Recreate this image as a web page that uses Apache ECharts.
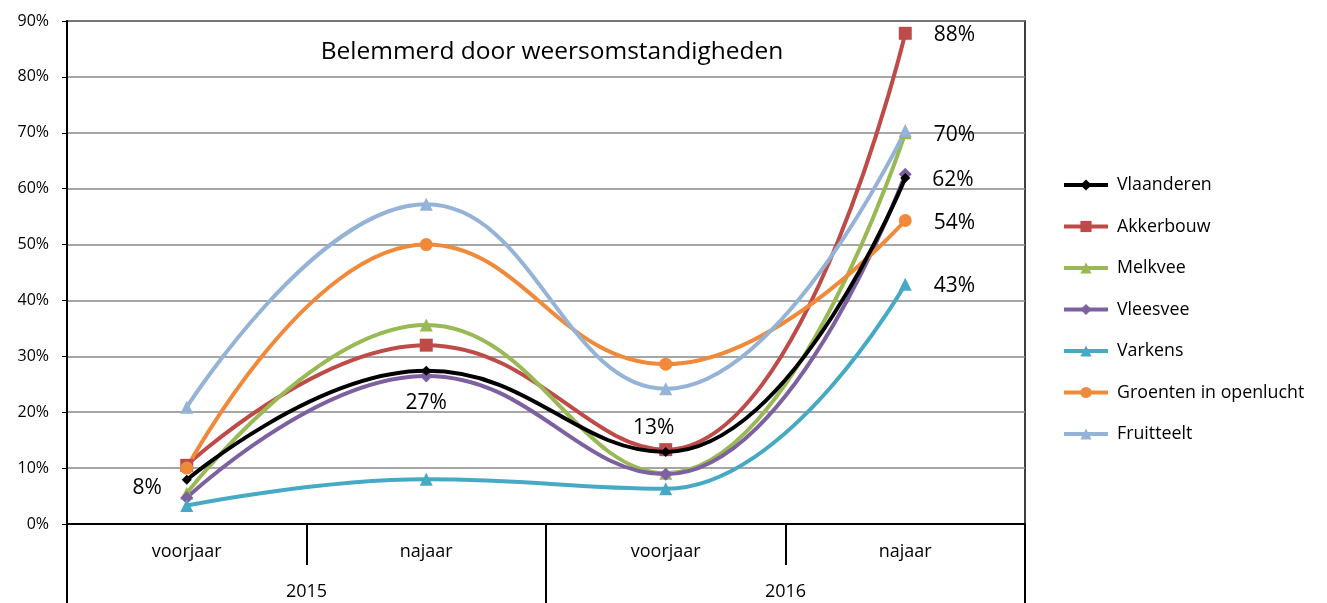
<!DOCTYPE html>
<html><head><meta charset="utf-8">
<script src="https://cdn.jsdelivr.net/npm/echarts@6/dist/echarts.min.js"></script>
<style>html,body{margin:0;padding:0;background:#fff}#c{width:1327px;height:603px}</style>
</head><body><div id="c"></div>
<script>
var seasons = ['voorjaar','najaar','voorjaar','najaar'];
var years = ['2015','2016'];
var yTicks = [0,10,20,30,40,50,60,70,80,90];
var vlaanderen = [7.9, 27.4, 12.9, 61.9];
var akkerbouw = [10.5, 32.0, 13.3, 87.8];
var melkvee = [5.5, 35.6, 9.1, 70.0];
var vleesvee = [4.7, 26.5, 8.9, 62.6];
var varkens = [3.3, 8.0, 6.3, 42.9];
var groenten = [10.0, 50.0, 28.6, 54.3];
var fruitteelt = [20.9, 57.2, 24.2, 70.4];
var names = ['Vlaanderen','Akkerbouw','Melkvee','Vleesvee','Varkens','Groenten in openlucht','Fruitteelt'];
var values = [vlaanderen, akkerbouw, melkvee, vleesvee, varkens, groenten, fruitteelt];
var colors = ['#000000','#BE4B48','#98B954','#7D60A0','#46AAC5','#F08A3A','#95B3D7'];
var symbols = ['diamond','rect','triangle','diamond','triangle','circle','triangle'];
var symSizes = [10,13,13,13,13,13,13];
// data labels: [seriesIndex, pointIndex, text, position]
var labels = [
  [0,0,'8%','left'],[0,1,'27%','bottom'],[0,2,'13%','top'],[0,3,'62%','right'],
  [1,3,'88%','right'],[2,3,'70%','right'],[5,3,'54%','right'],[4,3,'43%','right']
];
var FONT = 'Open Sans';
var series = values.map(function(arr, si){
  var data = arr.map(function(v, pi){
    var item = {value: v};
    labels.forEach(function(l){
      if (l[0]===si && l[1]===pi){
        var lab = {show:true, formatter:l[2], position:l[3], color:'#000', fontSize:21, fontFamily:FONT, distance:18};
        if (l[3]==='bottom') lab.distance = 17;
        if (l[3]==='top') { lab.distance = 8; lab.offset=[-12,0]; }
        if (l[3]==='right') { lab.distance = 22; lab.offset=[0,2]; }
        if (l[3]==='left') { lab.distance = 20; lab.offset=[0,8]; }
        item.label = lab;
      }
    });
    return item;
  });
  return {
    name: names[si], type:'line', smooth:0.45, data:data, xAxisIndex:0,
    symbol: symbols[si], symbolSize: symSizes[si], showAllSymbol:true,
    lineStyle:{color:colors[si], width:4}, itemStyle:{color:colors[si]},
    z: si===0 ? 5 : 3, emphasis:{disabled:true}
  };
});
var chart = echarts.init(document.getElementById('c'), null, {renderer:'canvas'});
chart.setOption({
  animation:false,
  title:{text:'Belemmerd door weersomstandigheden', left:547, top:35, textAlign:'center',
    textStyle:{fontFamily:FONT, fontSize:24.5, fontWeight:'normal', color:'#000'}},
  legend:{orient:'vertical', left:1057, top:171, itemGap:23.5, itemWidth:44, itemHeight:14,
    lineStyle:{width:4}, itemStyle:{borderWidth:0},
    data:names, textStyle:{fontFamily:FONT, fontSize:17.8, color:'#000', padding:[0,0,0,4]}},
  grid:{left:67, right:302, top:21, bottom:79, show:true, borderColor:'#000', borderWidth:1.5},
  xAxis:[
    {type:'category', data:seasons, position:'bottom', boundaryGap:true,
      axisLine:{show:true, lineStyle:{color:'#000', width:2}},
      axisTick:{show:true, interval:0, length:41, lineStyle:{color:'#000', width:2}},
      axisLabel:{interval:0, margin:19, fontFamily:FONT, fontSize:18, color:'#000'}},
    {type:'category', data:years, position:'bottom', boundaryGap:true,
      axisLine:{show:false},
      axisTick:{show:true, interval:0, length:79, lineStyle:{color:'#000', width:2}},
      axisLabel:{interval:0, margin:59, fontFamily:FONT, fontSize:18, color:'#000'}}
  ],
  yAxis:{type:'value', min:0, max:90, interval:10,
    axisLine:{show:true, lineStyle:{color:'#000', width:2}},
    axisTick:{show:true, length:5, lineStyle:{color:'#000'}},
    axisLabel:{formatter:function(v){return yTicks.indexOf(v)>=0 ? v+'%' : '';}, margin:18, fontFamily:FONT, fontSize:16, color:'#000'},
    splitLine:{show:true, lineStyle:{color:'#888', width:1.5}}},
  series: series
});
</script>
</body></html>
